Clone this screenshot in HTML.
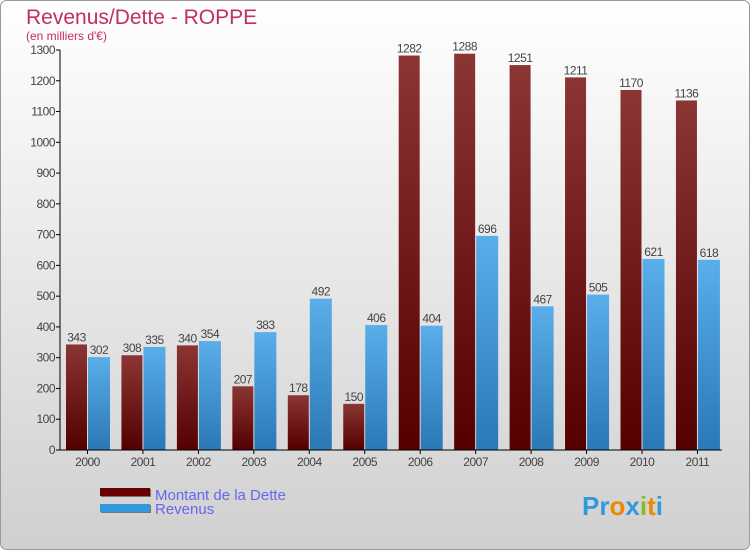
<!DOCTYPE html>
<html><head><meta charset="utf-8"><style>
body{margin:0;width:750px;height:550px;overflow:hidden;font-family:"Liberation Sans",sans-serif}
</style></head><body>
<svg id="c" width="750" height="550" xmlns="http://www.w3.org/2000/svg">
<defs>
<linearGradient id="bg" x1="0" y1="0" x2="0" y2="1"><stop offset="0" stop-color="#ffffff"/><stop offset="1" stop-color="#d0d0d0"/></linearGradient>
<linearGradient id="gd" x1="0" y1="0" x2="0" y2="1"><stop offset="0" stop-color="#8b3535"/><stop offset="1" stop-color="#550000"/></linearGradient>
<linearGradient id="gr" x1="0" y1="0" x2="0" y2="1"><stop offset="0" stop-color="#5aaeea"/><stop offset="1" stop-color="#2a78b5"/></linearGradient>
</defs>
<rect x="0.5" y="0.5" width="749" height="549" rx="6" fill="url(#bg)" stroke="#999"/>
<text x="26" y="24" font-size="21" fill="#c03060">Revenus/Dette - ROPPE</text>
<text x="26" y="40" font-size="12" fill="#c03060">(en milliers d'€)</text>
<g id="plot"></g>
<g>
<rect x="101" y="489" width="50" height="8" fill="#777"/><rect x="100" y="488" width="50" height="8" fill="#6a0000"/>
<text x="155" y="500" font-size="15" fill="#6666ee">Montant de la Dette</text>
<rect x="101" y="505" width="50" height="8" fill="#777"/><rect x="100" y="504" width="50" height="8" fill="#3399dd"/>
<text x="155" y="514" font-size="15" fill="#6666ee">Revenus</text>
</g>
<text x="582" y="515" font-size="26" font-weight="bold"><tspan fill="#3399dd">Pr</tspan><tspan fill="#ee8800">o</tspan><tspan fill="#3399dd">x</tspan><tspan fill="#88bb22">i</tspan><tspan fill="#ee8800">t</tspan><tspan fill="#3399dd">i</tspan></text>
</svg>
<script>
const years=["2000","2001","2002","2003","2004","2005","2006","2007","2008","2009","2010","2011"];
const dette=[343,308,340,207,178,150,1282,1288,1251,1211,1170,1136];
const revenus=[302,335,354,383,492,406,404,696,467,505,621,618];
const ticks=[0,100,200,300,400,500,600,700,800,900,1000,1100,1200,1300];
const NS="http://www.w3.org/2000/svg";
const g=document.getElementById('plot');
const y0=450,yTop=50,vmax=1300,x0=60,step=55.45;
function Y(v){return y0-(v/vmax)*(y0-yTop);}
function X(i){return x0+6+i*step;}
function el(t,a){const e=document.createElementNS(NS,t);for(const k in a)e.setAttribute(k,a[k]);g.appendChild(e);return e;}
ticks.forEach(t=>{
 const l=el('line',{x1:x0-4,x2:x0,y1:Y(t),y2:Y(t),stroke:'#000'});
 
 
 const tx=el('text',{x:x0-5,y:Y(t)+4,'font-size':12,fill:'#444','text-anchor':'end','letter-spacing':'-0.5'});
 tx.textContent=t;
 
 
});
years.forEach((yr,i)=>{
 const bx=X(i);
 const b1=el('rect',{x:bx,y:Y(dette[i]),width:21,height:y0-Y(dette[i]),fill:'url(#gd)'});
 
 
 const b2=el('rect',{x:bx+22,y:Y(revenus[i]),width:22,height:y0-Y(revenus[i]),fill:'url(#gr)'});
 
 
 const t1=el('text',{x:bx+10.5,y:Y(dette[i])-3,'font-size':12,fill:'#444','text-anchor':'middle','letter-spacing':'-0.5'});
 t1.textContent=dette[i];
 
 
 const t2=el('text',{x:bx+33,y:Y(revenus[i])-3,'font-size':12,fill:'#444','text-anchor':'middle','letter-spacing':'-0.5'});
 t2.textContent=revenus[i];
 
 
 const tk=el('line',{x1:bx+21.5,x2:bx+21.5,y1:y0,y2:y0+4,stroke:'#000'});
 
 
 const xl=el('text',{x:bx+21.5,y:y0+16,'font-size':12,fill:'#444','text-anchor':'middle','letter-spacing':'-0.5'});
 xl.textContent=yr;
 
 
});
const ax=el('line',{x1:x0,x2:x0,y1:yTop,y2:y0,stroke:'#000'});


const bx=el('line',{x1:x0,x2:722,y1:y0,y2:y0,stroke:'#000'});


</script>
</body></html>
